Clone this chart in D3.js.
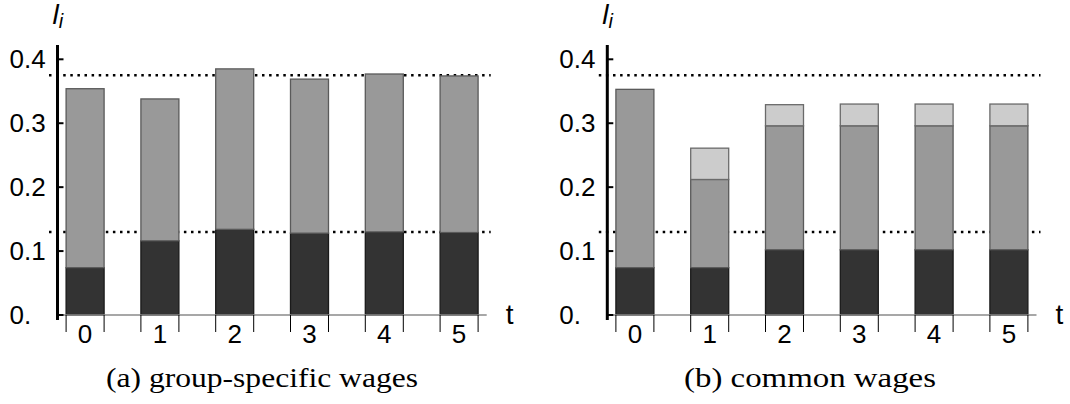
<!DOCTYPE html>
<html>
<head>
<meta charset="utf-8">
<script src="https://d3js.org/d3.v7.min.js"></script>
<style>
  html, body { margin: 0; padding: 0; background: #fff; }
  svg { display: block; }
</style>
</head>
<body>
<svg id="chart" width="1070" height="404"></svg>
<script>
// ---- data ----
const categories = ["0", "1", "2", "3", "4", "5"];
const yTicks = [0, 0.1, 0.2, 0.3, 0.4];
const yTickLabels = ["0.", "0.1", "0.2", "0.3", "0.4"];
const refLines = [0.375, 0.13];

// (a) group-specific wages: stacked segments
const groupDark = [0.074, 0.116, 0.134, 0.128, 0.130, 0.129];
const groupMid  = [0.280, 0.222, 0.251, 0.241, 0.247, 0.245];
// (b) common wages: stacked segments
const commonDark  = [0.074, 0.074, 0.102, 0.102, 0.102, 0.102];
const commonMid   = [0.279, 0.138, 0.194, 0.194, 0.194, 0.194];
const commonLight = [0.000, 0.049, 0.033, 0.034, 0.034, 0.034];

const captions = ["(a) group-specific wages", "(b) common wages"];
const yLabel = "l";
const ySub = "i";
const xLabel = "t";

// ---- layout ----
const svg = d3.select("#chart");
const panels = [
  { x0: 57.5, caption: captions[0], captionX: 262, captionW: 312,
    series: [ { key: "dark", vals: groupDark }, { key: "mid", vals: groupMid } ] },
  { x0: 607.3, caption: captions[1], captionX: 810, captionW: 252,
    series: [ { key: "dark", vals: commonDark }, { key: "mid", vals: commonMid }, { key: "light", vals: commonLight } ] }
];
const plotW = 429.2;
const fills = { dark: "#333333", mid: "#999999", light: "#cccccc" };
const strokes = { dark: "#1a1a1a", mid: "#5a5a5a", light: "#6a6a6a" };
const sans = "Liberation Sans, Arial, Helvetica, sans-serif";

const y = d3.scaleLinear().domain([0, 0.4]).range([315, 59.3]);

panels.forEach(p => {
  const g = svg.append("g");
  const x = d3.scaleBand().domain(categories)
    .range([p.x0, p.x0 + plotW]).paddingInner(0.492).paddingOuter(0.115);

  // reference dotted lines (behind bars)
  g.selectAll("line.ref").data(refLines).enter().append("line")
    .attr("x1", p.x0 - 8.5).attr("x2", p.x0 + plotW + 4)
    .attr("y1", d => y(d)).attr("y2", d => y(d))
    .attr("stroke", "#000").attr("stroke-width", 2.5)
    .attr("stroke-dasharray", "2.5,4.6");

  // stacked bars
  const rows = categories.map((c, i) => {
    const r = { cat: c };
    p.series.forEach(s => r[s.key] = s.vals[i]);
    return r;
  });
  const stack = d3.stack().keys(p.series.map(s => s.key));
  const layers = stack(rows);
  layers.forEach(layer => {
    g.selectAll(null).data(layer.filter(d => d[1] - d[0] > 0)).enter().append("rect")
      .attr("x", d => x(d.data.cat))
      .attr("width", x.bandwidth())
      .attr("y", d => y(d[1]))
      .attr("height", d => y(d[0]) - y(d[1]))
      .attr("fill", fills[layer.key])
      .attr("stroke", strokes[layer.key])
      .attr("stroke-width", 1.3);
  });

  // x axis baseline
  g.append("line")
    .attr("x1", p.x0).attr("x2", p.x0 + plotW)
    .attr("y1", y(0)).attr("y2", y(0))
    .attr("stroke", "#8a8a8a").attr("stroke-width", 1.5);

  // category frame ticks (bar edges) and labels
  categories.forEach(c => {
    [x(c), x(c) + x.bandwidth()].forEach(xx => {
      g.append("line")
        .attr("x1", xx).attr("x2", xx)
        .attr("y1", y(0)).attr("y2", y(0) + 17)
        .attr("stroke", "#000").attr("stroke-width", 1);
    });
    g.append("text")
      .attr("x", x(c) + x.bandwidth() / 2)
      .attr("y", 343)
      .attr("text-anchor", "middle")
      .attr("font-family", sans)
      .attr("font-size", 26)
      .text(c);
  });

  // y axis line
  g.append("line")
    .attr("x1", p.x0).attr("x2", p.x0)
    .attr("y1", y(0.4225)).attr("y2", y(0) + 5)
    .attr("stroke", "#000").attr("stroke-width", 3);

  // y ticks and labels
  yTicks.forEach((t, i) => {
    g.append("line")
      .attr("x1", p.x0).attr("x2", p.x0 + 6)
      .attr("y1", y(t)).attr("y2", y(t))
      .attr("stroke", "#000").attr("stroke-width", 2);
    g.append("text")
      .attr("x", p.x0 - 48)
      .attr("y", y(t) + 9)
      .attr("text-anchor", "start")
      .attr("font-family", sans)
      .attr("font-size", 26)
      .text(yTickLabels[i]);
  });

  // y label l_i
  const yl = g.append("text")
    .attr("x", p.x0 - 5).attr("y", 24)
    .attr("font-family", sans)
    .attr("font-style", "italic")
    .attr("font-size", 28);
  yl.append("tspan").text(yLabel);
  yl.append("tspan").attr("font-size", 20).attr("dy", 4).text(ySub);

  // x label t
  g.append("text")
    .attr("x", p.x0 + plotW + 23).attr("y", 324)
    .attr("text-anchor", "middle")
    .attr("font-family", sans)
    .attr("font-size", 28)
    .text(xLabel);

  // caption
  svg.append("text")
    .attr("x", p.captionX).attr("y", 387)
    .attr("text-anchor", "middle")
    .attr("font-family", "Liberation Serif, Times New Roman, serif")
    .attr("font-size", 28)
    .attr("textLength", p.captionW)
    .attr("lengthAdjust", "spacingAndGlyphs")
    .text(p.caption);
});
</script>
</body>
</html>
